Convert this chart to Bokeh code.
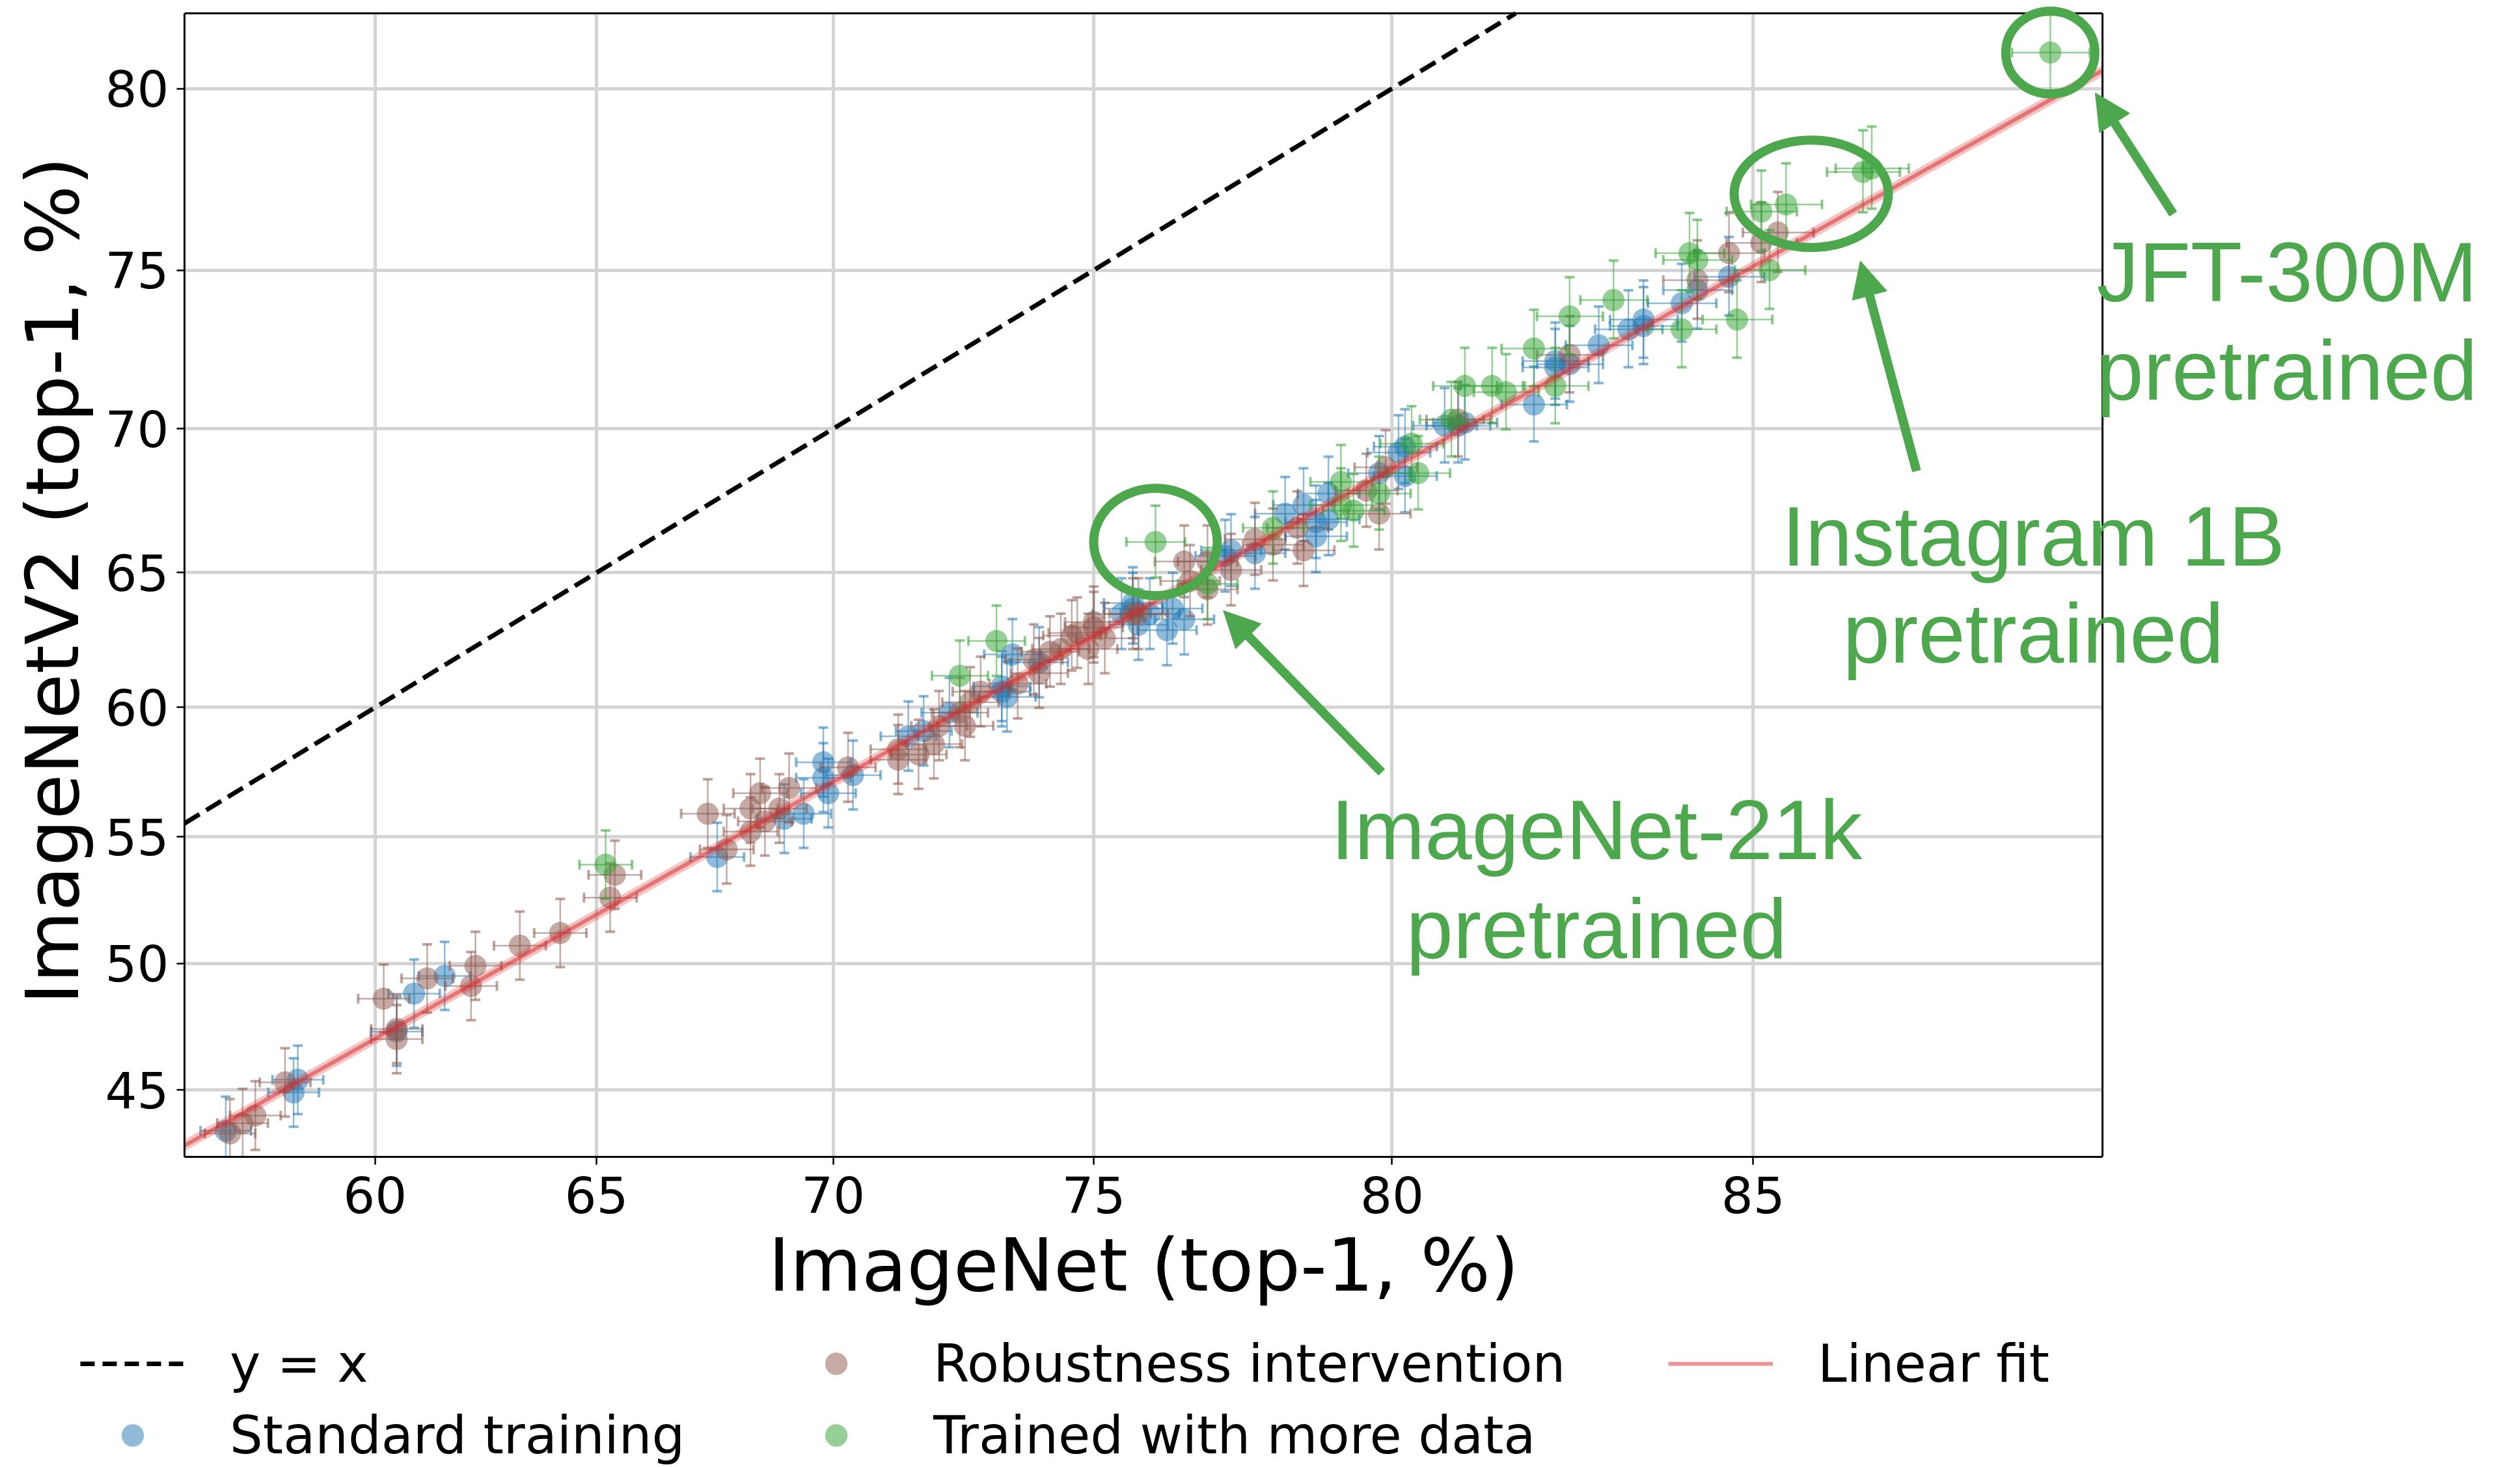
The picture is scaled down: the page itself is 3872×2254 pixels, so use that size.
import math
from bokeh.plotting import figure
from bokeh.layouts import column
from bokeh.models import (Range1d, FixedTicker, CustomJSTickFormatter, Legend, LegendItem,
                          Label, Arrow, NormalHead, BoxAnnotation, Title)
from bokeh.embed import file_html
from bokeh.resources import INLINE

# ---------------- data: top-1 accuracy (%) ----------------
std_imagenet = [56.5, 58.1, 58.2, 60.5, 60.9, 61.6, 67.6, 69.0, 69.4, 69.8, 69.8, 69.9, 70.4,
                71.5, 71.8, 72.3, 73.3, 73.3, 73.4, 73.5, 74.0, 75.5, 75.7, 75.7, 75.8, 76.0,
                76.3, 76.4, 76.6, 77.3, 77.4, 77.8, 78.3, 78.6, 78.8, 78.8, 79.0, 79.0, 79.8,
                80.1, 80.2, 80.2, 80.8, 81.0, 81.1, 82.1, 82.4, 82.4, 82.6, 83.0, 83.4, 83.6,
                83.6, 84.1, 84.3, 84.7]
std_v2 = [43.4, 44.9, 45.4, 47.3, 48.8, 49.5, 54.2, 55.7, 55.9, 57.9, 57.3, 56.7, 57.4,
          58.9, 59.1, 59.8, 60.8, 60.6, 60.4, 62.0, 61.7, 63.5, 63.7, 63.9, 63.1, 63.5,
          62.9, 63.7, 63.3, 65.6, 65.8, 65.7, 67.1, 67.4, 66.8, 66.3, 67.8, 66.9, 68.5,
          69.2, 69.4, 68.4, 70.1, 70.1, 70.2, 70.8, 72.2, 72.0, 72.1, 72.7, 73.2, 73.5,
          73.3, 74.0, 74.4, 74.8]

rob_imagenet = [56.6, 56.9, 57.2, 57.9, 60.2, 60.5, 60.5, 61.2, 62.2, 62.3, 63.3, 64.2, 65.3,
                65.4, 67.4, 67.8, 68.3, 68.3, 68.5, 68.6, 68.9, 69.1, 70.3, 71.3, 71.3, 71.7,
                72.0, 72.1, 72.5, 72.6, 72.7, 72.9, 73.6, 73.9, 74.0, 74.2, 74.4, 74.6, 74.7,
                74.9, 75.0, 75.0, 75.2, 75.7, 75.8, 76.6, 76.7, 77.0, 77.0, 77.4, 77.8, 78.1,
                78.5, 78.6, 79.6, 79.8, 79.9, 81.0, 82.6, 84.3, 84.7, 85.1, 85.3]
rob_v2 = [43.3, 43.7, 44.0, 45.3, 48.6, 47.4, 47.0, 49.4, 49.1, 49.9, 50.7, 51.2, 52.6,
          53.5, 55.9, 54.5, 55.2, 56.1, 56.7, 55.6, 56.1, 56.9, 57.7, 58.4, 58.0, 58.2,
          58.6, 59.3, 59.8, 59.3, 60.2, 60.6, 60.9, 61.8, 61.3, 62.1, 62.2, 62.7, 62.8,
          62.2, 63.2, 63.0, 62.6, 63.5, 63.5, 65.4, 64.7, 65.4, 64.4, 65.1, 66.2, 66.0,
          66.6, 65.8, 67.9, 67.1, 68.7, 70.3, 72.4, 74.7, 75.5, 75.8, 76.1]

more_imagenet = [65.2, 72.5, 73.2, 76.1, 77.0, 78.1, 79.2, 79.2, 79.4, 79.8, 80.3, 80.4, 80.9,
                 81.1, 81.5, 81.7, 82.1, 82.4, 82.6, 83.2, 84.1, 84.2, 84.3, 84.8, 85.1, 85.2,
                 85.4, 86.3, 86.4, 88.3]
more_v2 = [53.9, 61.2, 62.5, 66.1, 64.6, 66.6, 68.2, 67.4, 67.2, 67.8, 69.5, 68.5, 70.3,
           71.4, 71.4, 71.2, 72.6, 71.4, 73.6, 74.1, 73.2, 75.5, 75.3, 73.5, 76.7, 75.0,
           76.9, 77.8, 77.9, 80.9]

# test-set sizes used for the binomial confidence intervals
N_IMAGENET = 50000
N_V2 = 10000
CI_Z = 2.7

# linear fit in logit space
FIT_SLOPE = 0.921
FIT_INTERCEPT = -0.493
FIT_BAND = 0.009

X_TICKS = [60, 65, 70, 75, 80, 85]
Y_TICKS = [45, 50, 55, 60, 65, 70, 75, 80]
X_LIM = (55.52, 88.81)
Y_LIM = (42.39, 81.84)

# annotations (percent coordinates)
ANN_LINE1 = ["ImageNet-21k", "Instagram 1B", "JFT-300M"]
ANN_LINE2 = ["pretrained", "pretrained", "pretrained"]
ANN_TEXT_X = [82.97, 88.13, 90.46]
ANN_TEXT_Y1 = [55.28, 66.30, 74.95]
ANN_TEXT_Y2 = [51.37, 62.79, 71.91]
ANN_RING_X = [76.1, 85.7, 88.3]
ANN_RING_Y = [66.1, 77.2, 80.9]
ANN_RING_W = [190, 237, 137]
ANN_RING_H = [165, 165, 127]
ARROW_FROM = [(79.84, 57.51), (86.90, 68.57), (89.47, 76.63)]
ARROW_TO = [(77.27, 63.62), (86.27, 75.27), (88.74, 79.89)]

BLUE = "#1f77b4"
BROWN = "#8c564b"
GREEN = "#2ca02c"
RED = "#d62728"
ANN_GREEN = "#4da74d"
FONT = "DejaVu Sans"

# page layout (pixels)
W, H = 3872, 2254
AX_LEFT, AX_RIGHT, AX_TOP, AX_BOTTOM = 283, 3230, 20, 1777
FRAME_TOP = 6
MAIN_H = 2045
LOWER_H = H - MAIN_H


def logit(p):
    q = p / 100.0
    return math.log(q / (1.0 - q))


def L(seq):
    return [logit(v) for v in seq]


lx0, lx1 = logit(X_LIM[0]), logit(X_LIM[1])
ly0, ly1 = logit(Y_LIM[0]), logit(Y_LIM[1])
pxx = (AX_RIGHT - AX_LEFT) / (lx1 - lx0)
pxy = (AX_BOTTOM - AX_TOP) / (ly1 - ly0)

# the frame reaches to the page's right edge so that the annotations are not cut;
# the axes box itself is X_LIM x Y_LIM
p = figure(width=W, height=MAIN_H, output_backend="svg", toolbar_location=None,
           x_range=Range1d(lx0, lx0 + (W - AX_LEFT) / pxx),
           y_range=Range1d(ly0, ly1 + (AX_TOP - FRAME_TOP) / pxy),
           min_border_left=AX_LEFT, min_border_right=0, min_border_top=FRAME_TOP,
           min_border_bottom=MAIN_H - AX_BOTTOM)
p.background_fill_color = "white"
p.border_fill_color = "white"
p.outline_line_color = None

fmt = CustomJSTickFormatter(code="return (100/(1+Math.exp(-tick))).toFixed(0);")
xt = FixedTicker(ticks=L(X_TICKS))
yt = FixedTicker(ticks=L(Y_TICKS))
p.xaxis.ticker = xt
p.yaxis.ticker = yt
p.xgrid.ticker = xt
p.ygrid.ticker = yt
p.xaxis.bounds = (lx0, lx1)
p.yaxis.bounds = (ly0, ly1)
for ax in (p.xaxis[0], p.yaxis[0]):
    ax.formatter = fmt
    ax.axis_line_color = "black"
    ax.axis_line_width = 3
    ax.major_tick_in = 0
    ax.major_tick_out = 12
    ax.major_tick_line_width = 2.5
    ax.minor_tick_line_color = None
    ax.major_label_text_font = FONT
    ax.major_label_text_font_size = "77px"
    ax.major_label_text_color = "black"
    ax.axis_label_text_font = FONT
    ax.axis_label_text_font_size = "113px"
    ax.axis_label_text_font_style = "normal"
    ax.axis_label_text_color = "black"
p.yaxis.axis_label = "ImageNetV2 (top-1, %)"
p.xaxis.major_label_standoff = 18
p.yaxis.major_label_standoff = 12
p.yaxis.axis_label_standoff = 12
for g in (p.xgrid[0], p.ygrid[0]):
    g.grid_line_color = "#d4d4d4"
    g.grid_line_width = 5

# x-axis title, centred under the axes box
p.add_layout(Title(text="ImageNet (top-1, %)", align="left", offset=897, standoff=18,
                   text_font=FONT, text_font_size="113px", text_font_style="normal",
                   text_color="black"), "below")

# keep the grid inside the axes box
p.add_layout(BoxAnnotation(left=lx1, fill_color="white", fill_alpha=1.0, line_alpha=0,
                           level="underlay"))
p.add_layout(BoxAnnotation(bottom=ly1, fill_color="white", fill_alpha=1.0, line_alpha=0,
                           level="underlay"))

# y = x reference
p.line(L([X_LIM[0], Y_LIM[1]]), L([X_LIM[0], Y_LIM[1]]), line_color="black",
       line_width=7, line_dash="27 12")


def series(xs, ys, color):
    xl, yl = L(xs), L(ys)
    xe = [CI_Z * math.sqrt(v / 100 * (1 - v / 100) / N_IMAGENET) * 100 for v in xs]
    ye = [CI_Z * math.sqrt(v / 100 * (1 - v / 100) / N_V2) * 100 for v in ys]
    x_lo = L([a - e for a, e in zip(xs, xe)])
    x_hi = L([a + e for a, e in zip(xs, xe)])
    y_lo = L([a - e for a, e in zip(ys, ye)])
    y_hi = L([a + e for a, e in zip(ys, ye)])
    p.scatter(xl, yl, size=34, marker="circle", fill_color=color, fill_alpha=0.5,
              line_color=None)
    p.segment(x0=x_lo, y0=yl, x1=x_hi, y1=yl, line_color=color, line_alpha=0.5, line_width=2.5)
    p.segment(x0=xl, y0=y_lo, x1=xl, y1=y_hi, line_color=color, line_alpha=0.5, line_width=2.5)
    p.scatter(x_lo + x_hi, yl + yl, marker="dash", angle=math.pi / 2, size=15,
              line_color=color, line_alpha=0.55, line_width=4)
    p.scatter(xl + xl, y_lo + y_hi, marker="dash", size=15,
              line_color=color, line_alpha=0.55, line_width=4)


series(std_imagenet, std_v2, BLUE)
series(rob_imagenet, rob_v2, BROWN)
series(more_imagenet, more_v2, GREEN)

# linear fit with band
fx = [lx0, lx1]
fy = [FIT_SLOPE * v + FIT_INTERCEPT for v in fx]
p.varea(x=fx, y1=[v - FIT_BAND for v in fy], y2=[v + FIT_BAND for v in fy],
        fill_color=RED, fill_alpha=0.28)
p.line(fx, fy, line_color=RED, line_alpha=0.5, line_width=6)

# top and right edges of the axes box
p.segment(x0=[lx0, lx1], y0=[ly1, ly0], x1=[lx1, lx1], y1=[ly1, ly1],
          line_color="black", line_width=3)

# annotation rings, arrows and texts
p.ellipse(x=L(ANN_RING_X), y=L(ANN_RING_Y), width=ANN_RING_W, height=ANN_RING_H,
          width_units="screen", height_units="screen", fill_color=None,
          line_color=ANN_GREEN, line_width=14)

for (x0, y0), (x1, y1) in zip(ARROW_FROM, ARROW_TO):
    p.add_layout(Arrow(end=NormalHead(size=55, fill_color=ANN_GREEN, line_color=ANN_GREEN,
                                      line_width=1),
                       x_start=logit(x0), y_start=logit(y0), x_end=logit(x1), y_end=logit(y1),
                       line_color=ANN_GREEN, line_width=14))

for t1, t2, tx, ty1, ty2 in zip(ANN_LINE1, ANN_LINE2, ANN_TEXT_X, ANN_TEXT_Y1, ANN_TEXT_Y2):
    for t, ty in ((t1, ty1), (t2, ty2)):
        p.add_layout(Label(x=logit(tx), y=logit(ty), text=t, text_align="center",
                           text_baseline="middle", text_font="Liberation Sans",
                           text_font_size="130px", text_color=ANN_GREEN))

# ---------------- lower strip: legend ----------------
q = figure(width=W, height=LOWER_H, output_backend="svg", toolbar_location=None,
           x_range=Range1d(0, W), y_range=Range1d(0, LOWER_H),
           x_axis_type=None, y_axis_type=None, min_border=0)
q.outline_line_color = None
q.background_fill_color = "white"
q.border_fill_color = "white"
for fig in (p, q):
    if "frame_align" in fig.properties():
        fig.frame_align = False

far = [-1000]
k_id = q.line(far, far, line_color="black", line_width=7, line_dash="22 12")
k_std = q.scatter(far, far, size=34, fill_color=BLUE, fill_alpha=0.5, line_color=None)
k_rob = q.scatter(far, far, size=34, fill_color=BROWN, fill_alpha=0.5, line_color=None)
k_more = q.scatter(far, far, size=34, fill_color=GREEN, fill_alpha=0.5, line_color=None)
k_fit = q.line(far, far, line_color=RED, line_alpha=0.5, line_width=6)

legend_cols = [
    ([("y = x", k_id), ("Standard training", k_std)], (123, 2.5)),
    ([("Robustness intervention", k_rob), ("Trained with more data", k_more)], (1204, 2.5)),
    ([("Linear fit", k_fit)], (2563, 112.5)),
]
for items, loc in legend_cols:
    leg = Legend(items=[LegendItem(label=lab, renderers=[r]) for lab, r in items],
                 location=loc, orientation="vertical", glyph_width=161, glyph_height=86,
                 label_height=93, label_standoff=69, spacing=17, padding=0, margin=0,
                 border_line_color=None, background_fill_alpha=0,
                 label_text_font=FONT, label_text_font_size="80px",
                 label_text_color="black")
    q.add_layout(leg)

layout = column(p, q, spacing=0)
open("out.html", "w").write(file_html(layout, INLINE))
